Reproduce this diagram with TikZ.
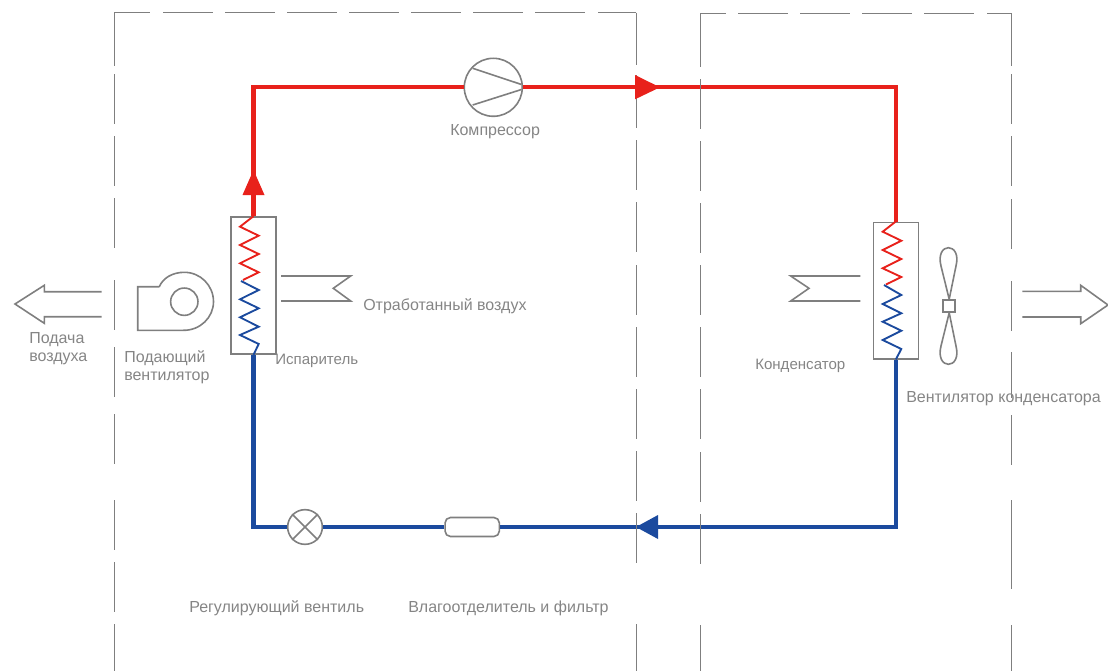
\documentclass[tikz,border=0pt]{standalone}
\usepackage{fontspec}
\setmainfont{Liberation Sans}
\usetikzlibrary{calc}
\definecolor{pipered}{HTML}{E8211B}
\definecolor{pipeblue}{HTML}{1B4A9E}
\definecolor{symgrey}{HTML}{7F7F7F}
\definecolor{txtgrey}{HTML}{858585}
\tikzset{
  redpipe/.style={draw=pipered,line width=3.2pt},
  bluepipe/.style={draw=pipeblue,line width=3.2pt},
  redcoil/.style={draw=pipered,line width=1.4pt,line join=miter},
  bluecoil/.style={draw=pipeblue,line width=1.4pt,line join=miter},
  symbolline/.style={draw=symgrey,line width=1.2pt,line join=miter},
  framedash/.style={draw=symgrey,line width=0.75pt},
  coilbox/.style={rectangle,draw=symgrey,line width=1.2pt,inner sep=0pt,minimum width=33.75pt},
  roundsym/.style={circle,draw=symgrey,fill=white,line width=1.2pt,inner sep=0pt},
  lbl/.style={anchor=west,inner sep=0pt,text=txtgrey,font=\fontsize{12pt}{13.9pt}\selectfont,align=left},
  lblsmall/.style={lbl,font=\fontsize{11.3pt}{13.9pt}\selectfont},
}
\begin{document}
\begin{tikzpicture}[x=0.75pt,y=-0.75pt]
\useasboundingbox (0,0) rectangle (1108,671);
\clip (0,0) rectangle (1108,671);
% equipment
\node[coilbox,minimum height=102.75pt] (evap) at (253.5,285.5) {};
\node[coilbox,minimum height=102.3pt] (cond) at (895.8,290.5) {};
\node[roundsym,minimum size=43.5pt] (comp) at (493.3,87.3) {};
\node[roundsym,minimum size=26pt] (valve) at (305,527) {};
\node[rectangle,rounded corners=4pt,draw=symgrey,fill=white,line width=1.2pt,inner sep=0pt,minimum width=40.7pt,minimum height=14.2pt] (filter) at (472.2,527) {};
% compressor and valve inner lines
\draw[symbolline] (472.7,68.3) -- (521.5,84.5);
\draw[symbolline] (521.5,89.5) -- (472.7,105);
\draw[symbolline] (valve.north west) -- (valve.south east);
\draw[symbolline] (valve.north east) -- (valve.south west);
% pipes
\draw[redpipe] (evap.north) |- (comp.west);
\draw[redpipe] (comp.east) -| (cond.north);
\draw[bluepipe] (cond.south) |- (filter.east);
\draw[bluepipe] (filter.west) -- (valve.east);
\draw[bluepipe] (valve.west) -| (evap.south);
% evaporator coil
\draw[redcoil] (evap.north) -- (240,226.7) -- (258.7,235.7) -- (240,245) -- (258.7,254) -- (240,263.3) -- (258.7,272.3) -- (243,280);
\draw[bluecoil] (241,281) -- (258.7,290) -- (240,299.3) -- (258.7,308.3) -- (240,317.3) -- (258.7,326.7) -- (240,335) -- (258.7,344) -- (evap.south);
% condenser coil
\draw[redcoil] (cond.north) -- (882.7,231.7) -- (901.3,240.7) -- (882.7,250) -- (901.3,259) -- (882.7,268.3) -- (901.3,277) -- (886,284.5);
\draw[bluecoil] (884,285) -- (901.3,295) -- (882.7,304) -- (901.3,313.3) -- (882.7,321.7) -- (901.3,330.7) -- (882.7,340) -- (901.3,349) -- (cond.south);
% supply fan
\draw[symbolline] (159.3,286.7) -- (137.7,286.7) -- (137.7,330.3) -- (183.3,330.3)
  .. controls (200,330.6) and (213.5,317.5) .. (213.5,301.7)
  .. controls (213.5,285.5) and (200.5,272.3) .. (184.3,272.3)
  .. controls (172.5,272.3) and (163,278) .. (159.3,286.7);
\node[roundsym,minimum size=20.5pt] (fanhub) at (184.3,301.7) {};
% supply air arrow
\draw[symbolline] (101.7,291.7) -- (44.3,291.7) -- (44.3,285.3) -- (15,304) -- (44.3,323.3) -- (44.3,316.7) -- (101.7,316.7);
% return air chevrons
\draw[symbolline] (281,276) -- (350.7,276) -- (333.3,288.3) -- (350.7,301) -- (281,301);
\draw[symbolline] (860.3,276) -- (790.7,276) -- (809,288.3) -- (790.7,301) -- (860.3,301);
% condenser fan
\node[rectangle,draw=symgrey,line width=1.2pt,inner sep=0pt,minimum size=9pt] (hub) at (949.2,306) {};
\draw[symbolline] (hub.north) -- (941,266) .. controls (938,254) and (943,247.7) .. (948.4,247.7)
  .. controls (954,247.7) and (959,254) .. (956,266) -- (hub.north);
\draw[symbolline] (hub.south) -- (941,346) .. controls (938,358) and (943,364.3) .. (948.4,364.3)
  .. controls (954,364.3) and (959,358) .. (956,346) -- (hub.south);
% discharge arrow
\draw[symbolline] (1022.3,291.3) -- (1080.7,291.3) -- (1080.7,285.3) -- (1108,305) -- (1080.7,323.7) -- (1080.7,317) -- (1022.3,317);
% blue flow arrow
\fill[pipeblue] (636,527) -- (658,515) -- (658,539) -- cycle;
% frames
\draw[framedash] (114.5,65.5) -- (114.5,12.5) -- (150,12.5);
\foreach \a/\b in {163/213,225/275,287/337,349/399,411/461,473/523,535/585}
  \draw[framedash] (\a,12.5) -- (\b,12.5);
\draw[framedash] (598,12.5) -- (636.3,12.5);
\foreach \a/\b in {74/124,136/186,198/248,280/330,347/397,414/464,500/550,562/612,624/671}
  \draw[framedash] (114.5,\a) -- (114.5,\b);
\draw[framedash] (636.3,12.5) -- (636.3,65);
\foreach \a/\b in {75/127.7,140/190,202/252,265/315,327/377,389/439,451/501,513/563,624/671}
  \draw[framedash] (636.3,\a) -- (636.3,\b);
\draw[framedash] (700.3,66.5) -- (700.3,13.5) -- (725.7,13.5);
\foreach \a/\b in {738/788,800/850,862/912,924/974}
  \draw[framedash] (\a,13.5) -- (\b,13.5);
\draw[framedash] (987,13.5) -- (1011.7,13.5) -- (1011.7,66);
\foreach \a/\b in {79/128.5,141/191,203/253,265/315,327/377,389/439,452/502,514/564,625/671}
  \draw[framedash] (700.3,\a) -- (700.3,\b);
\foreach \a/\b in {74/124,136/186,199/249,281/331,352/398,415/465,500/589,625/671}
  \draw[framedash] (1011.7,\a) -- (1011.7,\b);
% red flow arrows
\fill[pipered] (635,75) -- (660,87.3) -- (635,99.3) -- cycle;
\fill[pipered] (253.5,170) -- (264.5,195) -- (242.5,195) -- cycle;
% labels
\node[lbl] (lsupply) at (29,348.5) {Подача\\воздуха};
\node[lbl] (lfan) at (124,367) {Подающий\\вентилятор};
\node[lblsmall] (levap) at (275,360.5) {Испаритель};
\node[lbl] (lexhaust) at (363,306.5) {Отработанный воздух};
\node[lblsmall] (lcond) at (755,365.5) {Конденсатор};
\node[lbl] (lcondfan) at (906,398.5) {Вентилятор конденсатора};
\node[lbl] (lcomp) at (450,131.5) {Компрессор};
\node[lbl] (lvalve) at (189,608.5) {Регулирующий вентиль};
\node[lbl] (lfilter) at (408,608.5) {Влагоотделитель и фильтр};
\end{tikzpicture}
\end{document}
